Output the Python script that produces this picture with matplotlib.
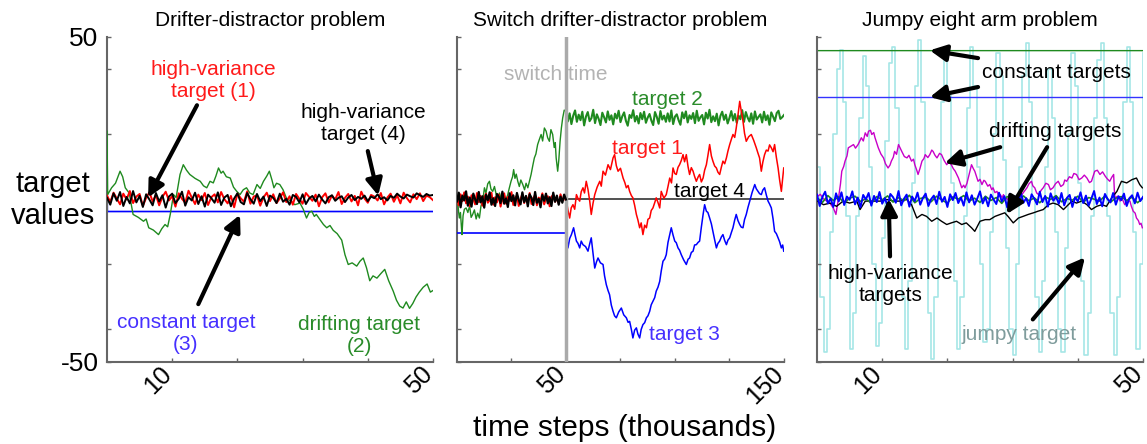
import numpy as np
import matplotlib
matplotlib.use("Agg")
import matplotlib.pyplot as plt
from matplotlib.transforms import ScaledTranslation

plt.rcParams['font.family'] = ['Liberation Sans', 'DejaVu Sans']

# ---------------- data ----------------
# time axis in thousands of steps, target values in [-50, 50]

# panel 1: drifter-distractor problem (t = 0..50)
p1_red_hv = [1.2, -0.8, 2.1, 0.3, -1.5, 1.8, 0.0, 2.6, -1.1, 0.9, 1.7, -2.0, 0.5, 2.2, -0.6, 1.4, -1.8, 0.8,
             2.4, -0.3, 1.0, -2.2, 1.9, 0.2, -1.0, 2.7, 0.6, -1.4, 1.5, -0.2, 2.0, -1.7, 0.7, 1.6, -0.9, 2.3,
             0.1, -1.2, 1.1, -2.4, 1.8, 0.4, -0.7, 2.5, -1.3, 0.9, 1.3, -1.9, 0.6, 2.1, -0.5, 1.6, -1.1, 0.3,
             2.2, -0.8, 1.0, -1.6, 1.7, 0.2, -1.3, 2.0, 0.8, -0.4, 1.5, -2.1, 0.7, 1.9, -0.9, 1.2, 0.0, 2.3,
             -1.4, 0.5, 1.7, -0.6, 1.1, -1.8, 2.4, 0.3, -1.0, 1.4, 0.9, -0.3, 2.0, -1.5, 0.6, 1.8, -0.7, 1.3,
             -1.2, 2.1, 0.4, -0.9, 1.6, 0.1, 1.9, -0.5, 1.2, 0.7, -0.2]
p1_black_hv = [0.5, -1.6, 1.9, -0.4, 2.3, -2.0, 0.8, -1.2, 2.6, -0.9, 1.1, -2.3, 1.6, 0.0, -1.8, 2.0, -0.6, 1.3,
               -2.5, 0.9, 1.8, -1.1, 0.2, 2.4, -1.9, 0.7, -0.3, 2.1, -1.4, 1.0, -2.2, 1.5, 0.4, -1.0, 2.2, -1.7,
               0.6, 1.4, -2.1, 0.3, 1.9, -0.8, -1.5, 2.0, 0.1, -1.3, 1.7, -0.5, 0.9, -2.0, 1.2, 0.5, -1.1, 1.8,
               -0.7, 0.2, -1.6, 1.4, 0.8, -0.9, 1.6, -1.4, 0.3, 1.1, -0.6, 1.5, 0.0, -1.2, 0.7, 1.3, -0.4, 0.5,
               1.0, -0.8, 0.6, 1.4, -0.2, 0.8, 0.2, 1.2, -0.5, 0.9, 0.4, 1.6, 0.1, 0.7, -0.3, 1.1, 0.5, 1.8, 0.9,
               0.3, 1.5, 1.0, 0.6, 1.9, 1.3, 0.8, 1.7, 1.2, 1.4]
p1_blue_const_t = [0, 0.05, 50]
p1_blue_const_v = [7.4, -3.7, -3.7]
p1_green_drift = [(0, 21.0), (0.1, 1.5), (0.7, 3.6), (1.3, 5.0), (2.0, 8.7), (2.4, 7.0), (2.8, 3.6), (3.4, 2.0),
                  (4.0, -4.6), (4.8, -5.5), (5.6, -6.7), (6.0, -6.0), (6.4, -8.7), (7.1, -9.4), (7.9, -10.8),
                  (8.4, -9.0), (8.9, -7.7), (9.3, -8.4), (9.7, -4.6), (10.2, 1.5), (10.6, 0.6), (11.2, 7.7),
                  (11.7, 10.7), (12.2, 9.0), (12.7, 7.7), (13.5, 6.5), (14.3, 5.6), (14.8, 4.2), (15.3, 3.6),
                  (15.8, 5.6), (16.3, 5.1), (16.7, 7.2), (17.1, 9.7), (17.5, 8.1), (17.8, 8.7), (18.3, 7.0),
                  (18.9, 6.6), (19.4, 3.8), (19.9, 2.5), (20.4, 1.5), (20.9, 3.0), (21.4, 3.6), (21.9, 2.0),
                  (22.4, 1.5), (23.0, 4.6), (23.5, 3.4), (24.0, 5.6), (24.5, 7.2), (24.9, 8.7), (25.3, 6.0),
                  (25.6, 3.6), (26.0, 5.0), (26.5, 4.6), (27.0, 3.0), (27.5, 0.5), (28.1, -0.4), (28.8, -1.6),
                  (29.6, -1.1), (30.1, -3.0), (30.6, -5.7), (31.0, -4.0), (31.4, -3.6), (31.8, -5.2), (32.1, -4.6),
                  (32.7, -6.3), (33.2, -7.7), (33.7, -8.7), (34.2, -8.0), (34.7, -9.5), (35.3, -10.5),
                  (36.0, -12.5), (36.5, -17.0), (37.0, -20.0), (37.6, -19.5), (38.3, -20.5), (38.8, -19.0),
                  (39.3, -18.0), (39.8, -21.0), (40.3, -25.0), (40.8, -23.5), (41.4, -24.2), (42.0, -22.8),
                  (42.6, -21.5), (43.2, -25.0), (43.9, -28.2), (44.4, -31.0), (44.9, -32.8), (45.4, -33.4),
                  (45.9, -31.5), (46.4, -33.5), (46.9, -32.0), (47.4, -30.0), (47.9, -28.5), (48.5, -27.0),
                  (49.1, -26.0), (49.6, -28.5), (50.0, -28.0)]

# panel 2: switch drifter-distractor problem (t = 0..150, switch at 50)
switch_t = 50
p2_red_pre = [0.4, -1.8, 1.6, -0.5, 2.2, -1.2, 0.9, -2.1, 1.3, 0.2, -1.5, 2.0, -0.8, 1.1, -1.9, 0.6, 1.8, -1.0,
              -0.2, 2.1, -1.6, 0.7, -0.9, 1.5, -2.2, 0.3, 1.9, -1.3, 0.8, -0.4, 2.3, -1.7, 0.5, 1.2, -2.0, 0.1,
              1.7, -1.1, 0.9, -0.6, 2.0, -1.4, 0.4, 1.4, -1.8, 0.6, -0.3, 1.9, -1.5, 0.2, 1.0, -2.1, 0.8, 1.5,
              -0.7, 0.3, -1.2, 1.6, -0.4, 0.7, -0.5]
p2_black_pre = [-0.6, 2.1, -2.4, 1.2, -0.3, 2.5, -1.9, 0.6, -2.2, 1.8, 0.1, -1.4, 2.3, -0.9, 1.0, -2.5, 1.5, -0.2,
                2.2, -1.6, 0.4, -2.0, 1.7, 0.8, -1.1, 2.4, -1.3, 0.3, -2.3, 1.9, -0.5, 1.3, -1.8, 2.0, -0.1, -1.5,
                2.2, -0.8, 1.1, -2.1, 1.6, 0.5, -1.7, 2.3, -1.0, 0.2, -2.4, 1.4, -0.4, 1.8, -1.2, 0.7, -2.0, 2.1,
                -0.7, 1.2, -1.6, 0.9, -1.0, 1.5, 0.0]
p2_green_pre = [(0.0, 0.0), (0.3, -0.5), (0.7, -3.5), (1.1, -5.7), (1.6, -4.0), (2.0, -8.0), (2.3, -10.8),
                (2.8, -5.0), (3.4, -3.0), (4.2, -2.6), (5.0, -4.0), (5.8, -2.0), (6.5, -5.5), (7.2, -4.6),
                (8.0, -3.2), (8.8, -6.0), (9.5, -4.2), (10.3, -5.7), (11.0, -2.0), (11.8, -0.5), (12.6, 3.6),
                (13.3, 2.0), (14.1, 4.8), (14.9, 5.6), (15.6, 3.2), (16.4, 2.5), (17.2, 4.0), (18.0, 1.5),
                (18.7, 0.5), (19.5, 2.0), (20.2, 0.2), (21.0, -0.5), (21.8, 1.2), (22.5, 0.0), (23.3, 1.5),
                (24.0, 3.5), (24.8, 5.6), (25.5, 7.0), (26.0, 9.2), (26.6, 6.5), (27.2, 7.8), (27.9, 5.6),
                (28.6, 4.0), (29.3, 6.0), (30.2, 4.6), (31.0, 3.0), (31.7, 5.0), (32.5, 3.6), (33.2, 5.5),
                (34.0, 7.7), (34.8, 10.5), (35.5, 12.8), (36.2, 14.0), (37.0, 16.9), (37.8, 18.5), (38.6, 20.0),
                (39.3, 18.0), (40.1, 22.0), (40.9, 21.0), (41.6, 19.0), (42.4, 17.9), (43.1, 21.5), (43.9, 20.0),
                (44.6, 16.0), (45.1, 17.5), (45.5, 12.8), (46.2, 8.7), (46.7, 12.0), (47.3, 17.9), (47.9, 22.0),
                (48.5, 25.1), (49.2, 27.5), (49.8, 27.2), (50.0, 27.0)]
p2_green_post = [27.2, 24.0, 26.5, 23.2, 25.8, 27.4, 23.9, 26.1, 24.4, 27.0, 22.8, 25.5, 26.9, 24.1, 25.0, 27.6,
                 23.5, 26.2, 24.8, 22.9, 26.7, 25.3, 23.7, 27.1, 24.5, 25.9, 23.1, 26.4, 24.9, 27.3, 23.8, 25.6,
                 26.8, 24.2, 22.7, 26.0, 25.1, 27.5, 24.0, 25.7, 23.4, 26.6, 24.7, 27.0, 23.6, 25.2, 26.3, 24.3,
                 22.9, 26.9, 25.4, 23.3, 27.2, 24.6, 25.8, 23.9, 26.5, 24.0, 27.4, 23.2, 25.5, 26.2, 24.4, 23.0,
                 26.8, 25.0, 27.1, 23.7, 25.9, 24.8, 26.6, 23.5, 27.3, 24.2, 25.3, 26.0, 23.1, 26.7, 24.9, 27.6,
                 23.8, 25.6, 24.1, 26.4, 22.8, 25.7, 27.0, 24.5, 26.1, 23.4, 25.1, 27.2, 24.3, 26.3, 23.6, 25.8,
                 24.7, 27.5, 23.9, 26.9, 25.2, 24.0, 26.5, 23.3, 27.1, 24.6, 25.4, 26.2, 23.7, 27.0, 24.4, 25.9,
                 23.0, 26.8, 25.5, 24.1, 26.6, 27.3, 24.8, 25.3, 26.0]
p2_red_post = [(50.2, -0.5), (50.9, -3.2), (51.7, -5.7), (52.4, -2.6), (53.2, -1.6), (54.0, -3.0), (54.8, 1.5),
               (55.6, 0.2), (56.3, -0.5), (57.0, 2.4), (57.8, 3.6), (58.5, 2.0), (59.3, 5.6), (60.1, 3.1),
               (60.9, -0.5), (61.6, -4.6), (62.4, -1.2), (63.2, 1.5), (64.3, 3.8), (65.5, 5.6), (66.2, 4.1),
               (67.0, 8.7), (68.1, 7.5), (69.3, 10.7), (70.4, 9.2), (71.6, 12.8), (72.3, 13.8), (73.1, 10.4),
               (73.9, 8.7), (75.0, 9.6), (76.2, 6.6), (77.0, 5.2), (77.7, 3.6), (78.5, 4.3), (79.2, 2.5),
               (80.0, 1.2), (80.7, 0.5), (81.5, -1.8), (82.3, -4.6), (83.0, -6.3), (83.8, -8.7), (84.5, -7.2),
               (85.3, -10.8), (86.1, -7.9), (86.9, -8.7), (87.6, -6.1), (88.4, -5.7), (89.1, -3.4), (89.9, -2.6),
               (90.7, -1.0), (91.4, 0.5), (92.2, -0.9), (93.0, -2.6), (93.7, 2.5), (94.9, 0.4), (96.0, 1.5),
               (96.8, 4.0), (97.6, 6.6), (98.4, 5.1), (99.1, 9.7), (99.9, 8.0), (100.6, 7.7), (101.4, 9.9),
               (102.1, 10.7), (102.9, 12.0), (103.7, 13.8), (104.4, 11.6), (105.2, 13.8), (106.0, 10.1),
               (106.7, 7.7), (107.5, 9.8), (108.3, 8.7), (109.0, 7.1), (109.8, 5.6), (110.6, 6.9), (111.3, 7.7),
               (112.1, 5.4), (112.9, 6.6), (113.6, 9.0), (114.4, 10.7), (115.1, 13.5), (115.9, 16.9),
               (116.7, 13.4), (117.4, 11.8), (118.2, 10.3), (119.0, 9.7), (119.7, 8.4), (120.5, 7.7),
               (121.3, 10.0), (122.0, 11.8), (122.8, 11.0), (123.6, 12.8), (124.3, 14.9), (125.1, 16.9),
               (125.9, 18.6), (126.6, 20.0), (127.4, 19.1), (128.1, 22.0), (128.9, 26.0), (129.7, 30.2),
               (130.4, 27.2), (131.2, 24.1), (131.9, 20.4), (132.7, 17.9), (133.8, 19.3), (135.0, 20.0),
               (136.1, 18.2), (137.3, 15.9), (138.0, 14.4), (138.8, 12.8), (139.6, 8.7), (140.3, 11.5),
               (141.1, 13.8), (141.9, 15.2), (142.7, 14.9), (143.4, 16.8), (144.2, 15.9), (145.0, 14.7),
               (145.7, 16.9), (146.5, 13.0), (147.3, 9.7), (148.0, 6.0), (148.8, 2.5), (149.4, 6.5), (149.9, 9.7)]
p2_blue_pre_level = -10.3
p2_blue_post = [(50.2, -10.8), (50.9, -14.9), (51.7, -12.0), (52.5, -10.8), (53.5, -8.7), (54.2, -11.0),
                (54.8, -12.8), (55.5, -13.5), (56.3, -14.9), (57.0, -12.8), (57.8, -13.9), (59.0, -14.5),
                (60.1, -15.9), (60.9, -13.6), (61.6, -11.8), (62.4, -16.5), (63.2, -21.1), (64.0, -19.2),
                (64.7, -18.0), (65.8, -19.5), (67.0, -20.0), (67.7, -23.5), (68.5, -26.2), (69.3, -28.0),
                (70.0, -29.3), (70.8, -32.5), (71.6, -34.4), (72.3, -35.8), (73.1, -36.4), (74.2, -34.6),
                (75.4, -33.4), (76.5, -35.5), (77.7, -36.4), (78.5, -37.8), (79.2, -37.5), (80.0, -40.0),
                (80.7, -42.6), (81.5, -40.2), (82.3, -39.5), (83.0, -41.4), (83.8, -42.6), (84.5, -40.0),
                (85.3, -38.5), (86.1, -37.9), (86.9, -36.4), (87.6, -35.8), (88.4, -34.4), (89.1, -32.4),
                (89.9, -31.3), (90.7, -30.2), (91.4, -28.2), (92.2, -27.0), (93.0, -25.2), (93.7, -22.0),
                (94.5, -19.0), (95.3, -18.3), (96.0, -17.0), (96.8, -13.2), (97.6, -10.8), (98.3, -8.7),
                (99.1, -10.9), (99.9, -12.8), (100.6, -13.3), (101.4, -14.9), (102.1, -15.6), (102.9, -17.0),
                (104.0, -18.6), (105.2, -20.0), (106.0, -18.4), (106.7, -18.0), (107.5, -16.3), (108.3, -15.9),
                (109.0, -14.0), (109.8, -13.9), (110.6, -13.2), (111.3, -12.8), (112.1, -8.5), (112.9, -4.6),
                (113.6, -1.6), (114.4, -3.6), (115.1, -4.0), (115.9, -5.7), (116.7, -7.5), (117.4, -9.8),
                (118.2, -12.4), (119.0, -14.9), (119.7, -13.5), (120.5, -12.8), (121.3, -11.5), (122.0, -10.8),
                (122.8, -12.6), (123.6, -13.9), (124.3, -12.5), (125.1, -11.8), (125.9, -10.1), (126.6, -8.7),
                (127.4, -6.3), (128.1, -4.6), (128.9, -6.5), (129.7, -7.7), (130.4, -8.5), (131.2, -8.7),
                (131.9, -6.2), (132.7, -4.6), (133.5, -2.4), (134.3, -0.5), (135.4, 2.2), (136.6, 4.6),
                (137.3, 3.3), (138.1, 2.5), (138.8, 1.8), (139.6, 1.5), (140.3, 2.9), (141.1, 3.6), (141.9, 1.4),
                (142.7, -0.5), (143.4, -1.4), (144.2, -2.6), (145.0, -6.0), (145.7, -9.8), (146.5, -10.5),
                (147.3, -11.8), (148.0, -13.0), (148.8, -14.9), (149.4, -14.0), (149.9, -15.9)]
p2_black_post_level = 0.0

# panel 3: jumpy eight arm problem (t = 0..50)
p3_green_const_t = [0, 0.05, 50]
p3_green_const_v = [0.0, 45.8, 45.8]
p3_blue_const = 31.4
p3_jumpy = [10, -30, -47, -40, -10, 20, 40, 46, 30, -5, -46, -35, -5, 25, 44, 35, 10, -20, -45, -38, -12, 18,
            42, 47, 28, 0, -30, -46, -25, 5, 35, 49, 30, 0, -35, -49, -30, 0, 30, 46, 32, 5, -25, -46, -30, -5,
            28, 47, 35, 10, -20, -44, -40, -10, 20, 45, 38, 12, -15, -40, -48, -20, 10, 38, 48, 30, 0, -30, -47,
            -25, 10, 40, 25, -10, -40, -47, -15, 20, 45, 35, 5, -25, -48, -35, -5, 25, 43, 48, 25, -5, -35, -48,
            -30, 0, 30, 47, 30, -10, -46, -20, 45]
p3_magenta_drift = [(0.0, 0.8), (0.5, 1.6), (1.0, 0.2), (1.5, -0.5), (2.0, -1.2), (2.5, -2.6), (2.9, -4.6),
                    (3.1, -2.0), (3.3, 0.5), (3.6, 4.8), (3.8, 8.7), (4.1, 10.2), (4.3, 11.8), (4.6, 13.4),
                    (4.8, 15.9), (5.2, 16.4), (5.6, 16.9), (5.9, 15.8), (6.3, 16.9), (6.6, 18.2), (6.8, 19.0),
                    (7.1, 18.0), (7.4, 20.5), (7.7, 19.4), (7.9, 21.0), (8.2, 21.3), (8.4, 20.0), (8.7, 20.6),
                    (8.9, 19.0), (9.2, 17.2), (9.4, 15.9), (9.8, 14.0), (10.2, 12.8), (10.5, 11.0), (10.9, 9.7),
                    (11.2, 10.6), (11.4, 11.8), (11.7, 13.0), (11.9, 14.8), (12.2, 13.9), (12.5, 16.9),
                    (12.8, 15.6), (13.0, 14.8), (13.4, 13.2), (13.8, 12.8), (14.1, 13.6), (14.5, 11.8),
                    (14.8, 12.4), (15.0, 10.7), (15.3, 9.0), (15.5, 7.7), (15.8, 9.6), (16.1, 11.8), (16.4, 12.6),
                    (16.6, 13.8), (17.0, 12.9), (17.3, 13.8), (17.6, 15.2), (17.8, 14.8), (18.1, 13.6),
                    (18.4, 12.8), (18.8, 14.2), (19.1, 13.8), (19.5, 12.0), (19.9, 10.7), (20.2, 11.6),
                    (20.6, 10.7), (20.9, 9.5), (21.2, 8.7), (21.5, 7.4), (21.7, 6.6), (22.0, 4.8), (22.2, 3.6),
                    (22.5, 4.4), (22.7, 3.6), (23.0, 5.0), (23.2, 6.6), (23.5, 8.9), (23.7, 10.7), (24.0, 9.4),
                    (24.2, 8.7), (24.5, 6.8), (24.7, 5.6), (25.0, 6.2), (25.3, 4.6), (25.6, 5.9), (25.8, 5.6),
                    (26.2, 4.1), (26.5, 4.6), (26.8, 3.0), (27.0, 3.6), (27.3, 2.1), (27.6, 2.5), (27.9, 1.0),
                    (28.1, 1.5), (28.4, 0.6), (28.6, 1.5), (28.9, -0.3), (29.1, 0.5), (29.6, -0.8), (30.1, -0.5),
                    (30.6, 0.9), (31.1, 0.5), (31.6, 2.0), (32.2, 3.6), (32.5, 4.8), (32.9, 5.6), (33.1, 4.2),
                    (33.4, 3.6), (33.7, 2.0), (34.0, 1.5), (34.4, 2.9), (34.7, 3.6), (35.1, 5.0), (35.5, 4.6),
                    (35.8, 3.0), (36.2, 3.6), (36.6, 4.9), (37.0, 5.6), (37.4, 4.0), (37.8, 4.6), (38.0, 6.0),
                    (38.3, 5.6), (38.7, 7.0), (39.1, 6.6), (39.4, 8.0), (39.8, 7.7), (40.2, 6.1), (40.6, 6.6),
                    (41.0, 7.5), (41.4, 6.6), (41.8, 5.2), (42.1, 5.6), (42.4, 7.4), (42.6, 8.7), (43.0, 9.0),
                    (43.4, 7.7), (43.8, 8.5), (44.2, 7.2), (44.5, 6.4), (44.9, 5.6), (45.2, 6.8), (45.5, 7.7),
                    (45.6, 3.0), (45.7, 0.5), (46.1, 1.0), (46.5, -0.5), (46.8, 0.3), (47.2, -1.6), (47.6, -0.4),
                    (48.0, -0.5), (48.2, -2.0), (48.5, -3.6), (48.8, -4.2), (49.0, -5.7), (49.3, -6.5),
                    (49.5, -7.7), (49.7, -7.3), (49.9, -8.7)]
p3_black_drift = [(0.05, -0.5), (1.0, -1.6), (2.0, -1.1), (3.0, -2.1), (4.0, -0.5), (5.0, -1.1), (6.1, -0.5),
                  (6.6, -3.1), (7.4, -0.5), (8.4, -0.5), (9.7, -0.5), (10.7, 0.0), (11.7, -0.5), (12.7, -0.5),
                  (13.75, 0.0), (14.5, -1.6), (15.3, -5.7), (16.1, -4.6), (16.8, -5.2), (17.6, -6.7),
                  (18.4, -5.7), (19.1, -6.7), (19.9, -7.7), (20.6, -7.2), (21.4, -6.7), (22.2, -7.7),
                  (22.9, -7.2), (23.7, -8.7), (24.2, -9.8), (25.0, -6.7), (25.8, -6.2), (26.5, -6.2),
                  (27.3, -5.2), (28.1, -4.6), (28.8, -4.1), (29.3, -5.2), (30.1, -7.2), (30.9, -5.7),
                  (31.6, -5.2), (32.4, -4.6), (33.2, -4.1), (33.9, -3.6), (34.7, -3.1), (35.5, -1.6),
                  (36.2, -1.1), (37.0, -1.6), (37.8, -3.1), (38.3, -2.1), (39.1, -0.5), (39.8, -1.1),
                  (40.6, -0.5), (41.4, -1.6), (42.1, -3.1), (42.9, -2.1), (43.7, -1.6), (44.4, -2.1),
                  (45.2, 0.5), (46.0, 2.5), (46.7, 5.6), (47.5, 5.1), (48.3, 6.1), (49.0, 6.6), (49.5, 4.6),
                  (49.9, 3.6)]
p3_blue_hv = [1.5, -2.0, 0.8, 2.4, -1.2, 0.3, -2.3, 1.9, -0.6, 2.2, -1.7, 0.9, -0.1, 2.5, -1.5, 0.6, -2.4, 1.4,
              0.0, 2.0, -1.9, 1.1, -0.8, 2.3, -1.3, 0.4, -2.1, 1.7, 0.7, -1.0, 2.6, -1.8, 0.2, 1.5, -2.2, 0.9,
              -0.5, 2.1, -1.6, 0.5, 1.8, -2.0, 0.1, 1.2, -1.4, 2.4, -0.7, 0.8, -2.3, 1.6, -0.2, 2.0, -1.1, 0.6,
              -1.9, 2.2, -0.9, 1.3, -1.6, 0.3, 2.5, -1.2, 0.7, -2.1, 1.5, 0.0, -1.4, 2.1, -0.6, 1.0, -2.4, 1.8,
              -0.3, 0.9, -1.7, 2.3, -1.0, 0.4, -2.0, 1.6, 0.2, -1.5, 2.4, -0.8, 1.1, -2.2, 1.9, -0.4, 0.8, -1.3,
              2.0, -1.8, 0.5, 1.4, -2.3, 0.7, -0.6, 2.2, -1.1, 1.2, -1.9, 0.3, 2.6, -1.4, 0.6, -2.1, 1.7, 0.1,
              -0.9, 2.0, -1.6, 1.0, -0.2, 1.8, -2.0, 0.4, 1.3, -1.2, 2.1, -0.5, 0.8]
p3_green_hv = [0.5, -0.9, 1.2, -0.3, 0.8, -1.1, 0.4, 1.0, -0.6, 0.2, -1.2, 0.9, -0.1, 1.1, -0.8, 0.6, -0.4, 1.3,
               -1.0, 0.3, 0.7, -0.7, 1.0, -0.2, -1.1, 0.8, 0.1, 1.2, -0.5, 0.4, -0.9, 1.0, -0.3, 0.6, -1.2, 0.9,
               0.2, -0.6, 1.1, -0.4, 0.5, -1.0, 0.8, 0.0, 1.2, -0.7, 0.3, -0.2, 1.0, -0.9, 0.6, 0.1, -0.5, 1.1,
               -0.8, 0.4, 0.9, -0.3, 0.7, -1.0, 0.5]

# ---------------- colours ----------------
RED = '#ff0000'
GREEN = '#1f8a1f'
BLUE = '#0000ff'
MAGENTA = '#c800c8'
CYAN = '#a6e6e6'
RED_TXT = '#ff1a1a'
GREEN_TXT = '#2a8c2a'
BLUE_TXT = '#4630ff'
SPINE = '#666666'
FS = 15


def walk(pairs):
    t, v = zip(*pairs)
    return np.array(t), np.array(v)


def even(values, t0, t1):
    return np.linspace(t0, t1, len(values)), np.array(values)


def style_axes(ax, xmax, xticks, xlabels, ylabels):
    ax.set_xlim(0, xmax)
    ax.set_ylim(-50, 50)
    for s in ['top', 'right']:
        ax.spines[s].set_visible(False)
    for s in ['left', 'bottom']:
        ax.spines[s].set_color(SPINE)
        ax.spines[s].set_linewidth(1.5)
    ax.set_yticks([-50, -40, -20, 0, 20, 40, 50])
    ax.set_yticklabels(ylabels, fontsize=19)
    ax.set_xticks(xticks)
    ax.set_xticklabels(xlabels, fontsize=18, rotation=45, ha='right', va='center',
                       rotation_mode='anchor')
    ax.tick_params(axis='both', direction='in', length=3, color=SPINE, width=1)
    ax.tick_params(axis='x', pad=6)
    ax.tick_params(axis='y', pad=6)
    # nudge the rotated labels a little to the left so they end at the tick
    shift = ScaledTranslation(-3 / 72, 0, fig.dpi_scale_trans)
    for lab in ax.get_xticklabels():
        lab.set_transform(lab.get_transform() + shift)


def arrow(ax, tail, head):
    ax.annotate('', xy=head, xytext=tail, zorder=20,
                arrowprops=dict(arrowstyle='-|>,head_length=0.7,head_width=0.35', color='k',
                                lw=3, mutation_scale=14, shrinkA=0, shrinkB=0))


fig = plt.figure(figsize=(11.47, 4.44), dpi=100)
fig.patch.set_facecolor('white')
ax1 = fig.add_axes([0.0933, 0.1847, 0.2842, 0.732])
ax2 = fig.add_axes([0.3984, 0.1847, 0.2851, 0.732])
ax3 = fig.add_axes([0.7123, 0.1847, 0.2842, 0.732])

no_y = [''] * 7
style_axes(ax1, 50, [10, 20, 30, 40, 50], ['10', '', '', '', '50'], ['-50', '', '', '', '', '', '50'])
style_axes(ax2, 150, [25, 50, 75, 100, 125, 150], ['', '50', '', '', '', '150'], no_y)
style_axes(ax3, 50, [10, 20, 30, 40, 50], ['10', '', '', '', '50'], no_y)

# ---- panel 1 ----
ax1.plot(p1_blue_const_t, p1_blue_const_v, color=BLUE, lw=1.2, zorder=2)
ax1.plot(*walk(p1_green_drift), color=GREEN, lw=1, zorder=3)
ax1.plot(*even(p1_red_hv, 0, 50), color=RED, lw=1.4, zorder=4)
ax1.plot(*even(p1_black_hv, 0, 50), color='black', lw=1.4, zorder=5)
ax1.set_title('Drifter-distractor problem', fontsize=FS, pad=8)

ax1.text(16.3, 36.7, 'high-variance\ntarget (1)', color=RED_TXT, fontsize=FS, ha='center', va='center')
arrow(ax1, (13.8, 29.0), (6.3, 0.6))
ax1.text(39.3, 23.5, 'high-variance\ntarget (4)', color='black', fontsize=FS, ha='center', va='center')
arrow(ax1, (40.0, 14.9), (41.6, 1.2))
ax1.text(12.1, -41.1, 'constant target\n(3)', color=BLUE_TXT, fontsize=FS, ha='center', va='center')
arrow(ax1, (14.0, -32.2), (20.4, -4.7))
ax1.text(38.7, -41.8, 'drifting target\n(2)', color=GREEN_TXT, fontsize=FS, ha='center', va='center')

# ---- panel 2 ----
ax2.axvline(switch_t, color='#aaaaaa', lw=2.5, zorder=6)
ax2.plot([switch_t, 150], [p2_black_post_level] * 2, color='#333333', lw=1.2, zorder=2)
ax2.plot([0, switch_t], [p2_blue_pre_level] * 2, color=BLUE, lw=1.2, zorder=3)
ax2.plot(*walk(p2_blue_post), color=BLUE, lw=1.1, zorder=3)
ax2.plot(*walk(p2_green_pre), color=GREEN, lw=1, zorder=4)
ax2.plot(*even(p2_green_post, 50, 150), color=GREEN, lw=1.5, zorder=4)
ax2.plot(*walk(p2_red_post), color=RED, lw=1.1, zorder=5)
ax2.plot(*even(p2_red_pre, 0, 50), color=RED, lw=1.4, zorder=5)
ax2.plot(*even(p2_black_pre, 0, 50), color='black', lw=1.6, zorder=7)
ax2.set_title('Switch drifter-distractor problem', fontsize=FS, pad=8)

ax2.text(45.5, 38.6, 'switch time', color='#b3b3b3', fontsize=FS, ha='center', va='center', zorder=1)
ax2.text(96.6, 30.8, 'target 2', color=GREEN_TXT, fontsize=FS, ha='center', va='center', zorder=10)
ax2.text(87.5, 15.8, 'target 1', color=RED_TXT, fontsize=FS, ha='center', va='center', zorder=10)
ax2.text(115.9, 2.4, 'target 4', color='black', fontsize=FS, ha='center', va='center', zorder=10)
ax2.text(104.4, -41.5, 'target 3', color=BLUE_TXT, fontsize=FS, ha='center', va='center', zorder=10)

# ---- panel 3 ----
ax3.plot(*even(p3_jumpy, 0, 50), color=CYAN, lw=1.2, drawstyle='steps-post', zorder=1)
ax3.plot(p3_green_const_t, p3_green_const_v, color=GREEN, lw=1, zorder=2)
ax3.plot([0, 50], [p3_blue_const] * 2, color='#3333ff', lw=1, zorder=2)
ax3.plot(*walk(p3_magenta_drift), color=MAGENTA, lw=1, zorder=3)
ax3.plot(*walk(p3_black_drift), color='black', lw=1, zorder=4)
ax3.plot(*even(p3_green_hv, 0, 50), color=GREEN, lw=1.2, zorder=5)
ax3.plot(*even(p3_blue_hv, 0, 50), color=BLUE, lw=1.4, zorder=6)
ax3.set_title('Jumpy eight arm problem', fontsize=FS, pad=8)

ax3.text(36.8, 39.2, 'constant targets', color='black', fontsize=FS, ha='center', va='center', zorder=10)
arrow(ax3, (24.7, 43.5), (17.3, 45.9))
arrow(ax3, (24.7, 34.6), (17.3, 31.5))
ax3.text(36.5, 21.0, 'drifting targets', color='black', fontsize=FS, ha='center', va='center', zorder=10)
arrow(ax3, (28.1, 16.1), (19.6, 11.2))
arrow(ax3, (35.3, 16.1), (29.1, -4.5))
ax3.text(11.3, -26.1, 'high-variance\ntargets', color='black', fontsize=FS, ha='center', va='center',
         zorder=10)
arrow(ax3, (11.2, -17.5), (11.0, 0.2))
ax3.text(31.0, -41.5, 'jumpy target', color='#7f9c9c', fontsize=FS, ha='center', va='center', zorder=10)
arrow(ax3, (33.1, -36.9), (41.1, -17.8))

# ---- shared labels ----
fig.text(0.046, 0.55, 'target\nvalues', fontsize=21, ha='center', va='center')
fig.text(0.545, 0.036, 'time steps (thousands)', fontsize=21.5, ha='center', va='center')

fig.savefig('out.png', dpi=100, facecolor='white')
